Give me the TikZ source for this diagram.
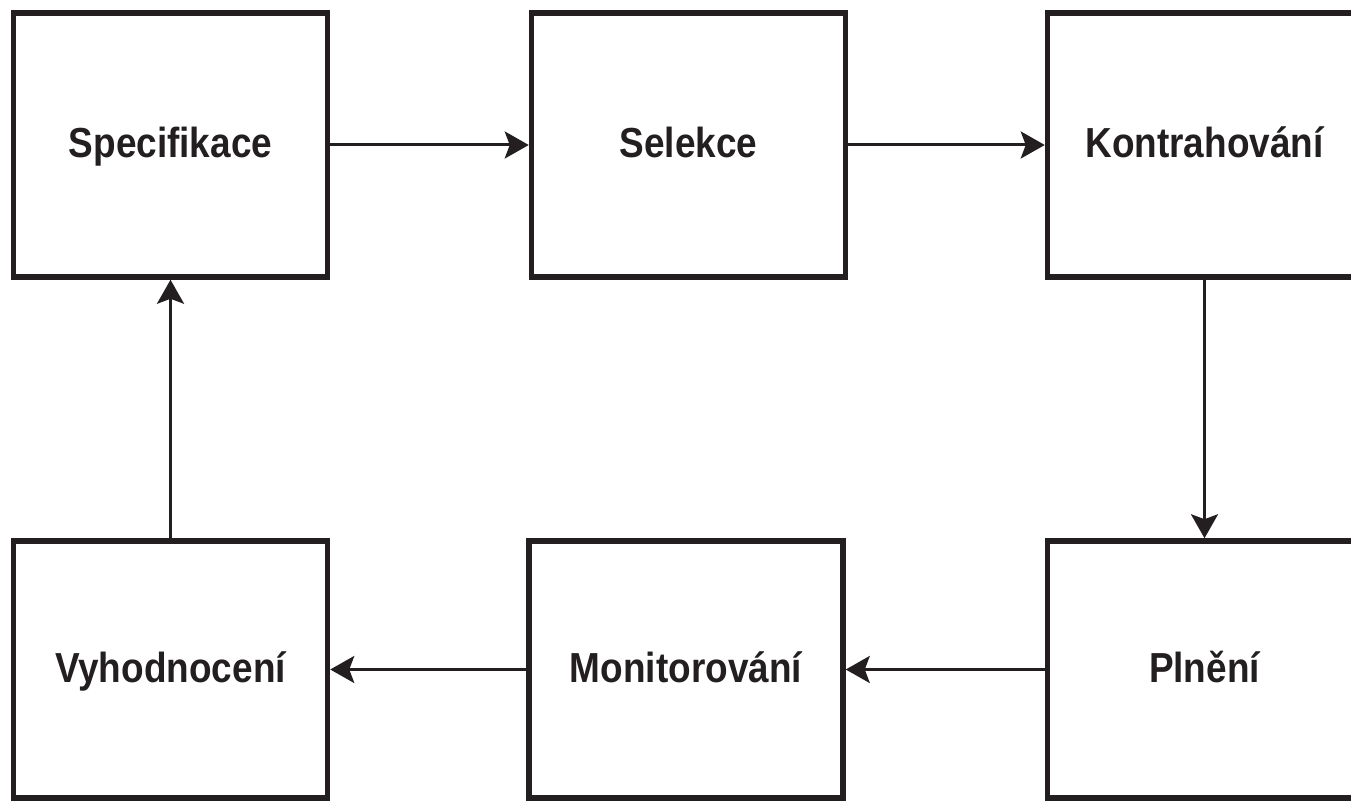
\documentclass[tikz,border=0pt]{standalone}
\usepackage{fontspec}
\setmainfont{Liberation Sans}[FakeStretch=0.88]
\usetikzlibrary{arrows.meta}
\definecolor{ink}{HTML}{231F20}
\tikzset{
	stage/.style={draw=ink, line width=2.75pt, minimum width=157pt, minimum height=132pt,
		text=ink, text height=15pt, text depth=2pt, font=\bfseries\fontsize{21}{25}\selectfont},
	flow/.style={draw=ink, line width=1.5pt, -{Stealth[length=12pt, width=13.5pt, inset=2.5pt]}}
}
\begin{document}
\begin{tikzpicture}[x=0.5pt, y=-0.5pt]
		\useasboundingbox (0,0) rectangle (1351,802);
		\def\myStages{spec/170.5/145/Specifikace, sel/688.5/145/Selekce, kontr/1204.5/145/Kontrahování}
		\def\myLower{eval/170.5/669.5/Vyhodnocení, monit/686/669.5/Monitorování, plneni/1204.5/669.5/Plnění}
		\foreach \name/\x/\y/\txt in \myStages
		\node[stage] (\name) at (\x,\y) {\txt};
		\foreach \name/\x/\y/\txt in \myLower
		\node[stage, minimum height=128.5pt] (\name) at (\x,\y) {\txt};
		\foreach \from/\to in {spec/sel, sel/kontr, kontr/plneni, plneni/monit, monit/eval, eval/spec}
		\draw[flow] (\from) -- (\to);
	\end{tikzpicture}
\end{document}
